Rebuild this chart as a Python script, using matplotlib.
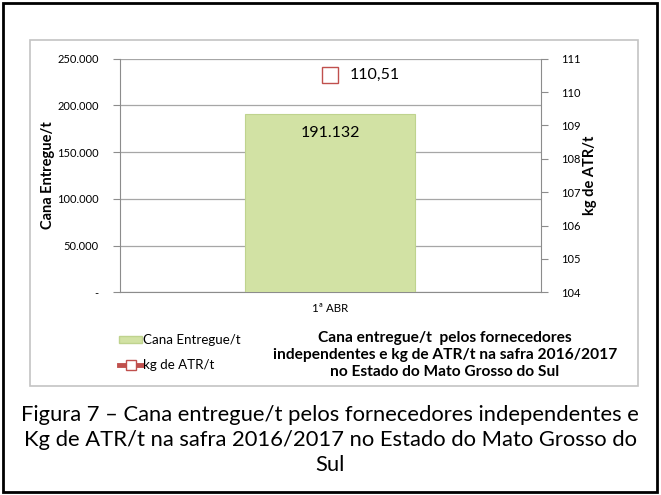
import matplotlib as mpl
mpl.use('Agg')
import matplotlib.pyplot as plt
from matplotlib.patches import Rectangle
from matplotlib.lines import Line2D
from matplotlib.ticker import FuncFormatter

# data
categories = ['1ª ABR']
cana_entregue = [191132]
kg_atr = [110.51]

left_ticks = [0, 50000, 100000, 150000, 200000, 250000]
right_ticks = [104, 105, 106, 107, 108, 109, 110, 111]

title_txt = ('Cana entregue/t  pelos fornecedores\n'
             'independentes e kg de ATR/t na safra 2016/2017\n'
             'no Estado do Mato Grosso do Sul')
caption_txt = ('Figura 7 – Cana entregue/t pelos fornecedores independentes e\n'
               'Kg de ATR/t na safra 2016/2017 no Estado do Mato Grosso do\n'
               'Sul')

plt.rcParams['font.family'] = ['Lato', 'DejaVu Sans']

W, H = 661, 495
fig = plt.figure(figsize=(W/100, H/100), dpi=100)

def fx(px): return px / W
def fy(py): return 1 - py / H

# outer black frame and grey chart frame
fig.patches.append(Rectangle((fx(3), fy(492)), fx(654), (489)/H, transform=fig.transFigure,
                             fill=False, ec='black', lw=2))
fig.patches.append(Rectangle((fx(30), fy(386)), fx(608), (346)/H, transform=fig.transFigure,
                             fill=False, ec='#c4c4c4', lw=1.2))

ax = fig.add_axes([fx(119.5), fy(292.3), fx(421), (292.3-58.7)/H])
ax2 = ax.twinx()

grey = '#8c8c8c'
x = list(range(len(categories)))
bars = ax.bar(x, cana_entregue, width=0.405, color='#d2e2a4', edgecolor='#bfd38e', lw=0.8, zorder=3)
ax.set_xlim(-0.5, 0.5)
ax.set_ylim(0, 250000)
ax.set_yticks(left_ticks)
ax.yaxis.set_major_formatter(FuncFormatter(
    lambda v, p: '-' if v == 0 else f'{int(v):,}'.replace(',', '.')))
ax.set_xticks(x)
ax.set_xticklabels(categories)
ax.grid(axis='y', color='#a6a6a6', lw=0.9, zorder=0)
ax.set_axisbelow(True)
for s in ['top', 'right']:
    ax.spines[s].set_visible(False)
for s in ['left', 'bottom']:
    ax.spines[s].set_color(grey)
ax.tick_params(axis='y', length=5, color=grey, labelsize=8, pad=10)
ax.tick_params(axis='x', length=0, labelsize=8.3, pad=8)
ax.set_ylabel('Cana Entregue/t', fontsize=10.5, fontweight='bold')
ax.yaxis.set_label_coords((55 - 119.5) / 421, 0.5)

for xi, v in zip(x, cana_entregue):
    ax.text(xi, v - 21000, f'{v:,}'.replace(',', '.'), ha='center', va='center', fontsize=11.5, zorder=4)

ax2.plot(x, kg_atr, color='#c0504d', lw=3, marker='s', markersize=11.5,
         mfc='white', mec='#c0504d', mew=1.0, zorder=5)
ax2.set_ylim(104, 111)
ax2.set_yticks(right_ticks)
for s in ['top', 'left', 'bottom']:
    ax2.spines[s].set_visible(False)
ax2.spines['right'].set_color(grey)
ax2.tick_params(axis='y', length=5, color=grey, labelsize=8, pad=10)
ax2.set_ylabel('kg de ATR/t', fontsize=10.5, fontweight='bold')
ax2.yaxis.set_label_coords((583 - 119.5) / 421, 0.5)
for xi, v in zip(x, kg_atr):
    ax2.annotate(f'{v:.2f}'.replace('.', ','), (xi, v), xytext=(14, 0), textcoords='offset points',
                 ha='left', va='center', fontsize=11.5)

# legend
leg_handles = [Rectangle((0, 0), 1, 1, fc='#d2e2a4', ec='#bfd38e'),
               Line2D([], [], color='#c0504d', lw=3.5, marker='s', markersize=7,
                      mfc='white', mec='#c0504d')]
fig.legend(leg_handles, ['Cana Entregue/t', 'kg de ATR/t'], loc='upper left',
           bbox_to_anchor=(fx(107), fy(322)), frameon=False, fontsize=9.6,
           handlelength=1.75, handletextpad=0.05, labelspacing=1.0, handleheight=0.45)

fig.text(fx(445), fy(355), title_txt, ha='center', va='center', fontsize=11.2,
         fontweight='bold', linespacing=1.3)
fig.text(fx(330), fy(440), caption_txt, ha='center', va='center', fontsize=15.8,
         linespacing=1.3)

fig.savefig('out.png', dpi=100)
